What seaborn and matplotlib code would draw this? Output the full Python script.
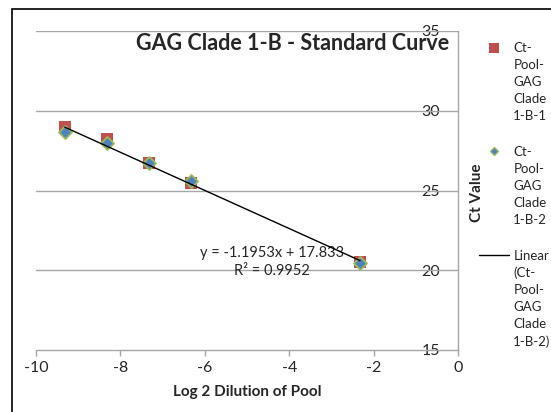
import numpy as np
import pandas as pd
import matplotlib
matplotlib.use("Agg")
import matplotlib.pyplot as plt
from matplotlib.lines import Line2D
from matplotlib.patches import Rectangle
import seaborn as sns

# ---- data ----
log2_dilution = [-9.32, -8.32, -7.32, -6.32, -2.32]
ct_series1 = [28.95, 28.22, 26.72, 25.50, 20.52]
ct_series2 = [28.65, 27.96, 26.70, 25.62, 20.48]
series1_name = "Ct-\nPool-\nGAG\nClade\n1-B-1"
series2_name = "Ct-\nPool-\nGAG\nClade\n1-B-2"
trend_name = "Linear\n(Ct-\nPool-\nGAG\nClade\n1-B-2)"
trend_slope = -1.1953
trend_intercept = 17.833
trend_r2 = 0.9952
x_ticks = [-10, -8, -6, -4, -2, 0]
y_ticks = [15, 20, 25, 30, 35]
title = "GAG Clade 1-B - Standard Curve"
x_label = "Log 2 Dilution of Pool"
y_label = "Ct Value"

sns.set_style("white")
plt.rcParams['font.family'] = ['Lato', 'DejaVu Sans']

RED = "#C0504D"
BLUE = "#4F81BD"
GREEN = "#9BBB59"
GRID = "#A6A6A6"

fig = plt.figure(figsize=(5.51, 4.12), dpi=100)
W, H = 551, 412
ax = fig.add_axes([36 / W, 1 - 350 / H, (458 - 36) / W, (350 - 31) / H])

df1 = pd.DataFrame({"x": log2_dilution, "y": ct_series1})
df2 = pd.DataFrame({"x": log2_dilution, "y": ct_series2})
sns.scatterplot(data=df1, x="x", y="y", marker="s", s=84, color=RED,
                edgecolor=RED, linewidth=0, ax=ax, zorder=3)
sns.scatterplot(data=df2, x="x", y="y", marker="D", s=44, color=BLUE,
                edgecolor=GREEN, linewidth=1.3, ax=ax, zorder=4)

xline = np.array([min(log2_dilution), max(log2_dilution)])
sns.lineplot(x=xline, y=trend_slope * xline + trend_intercept, color="black",
             linewidth=1.0, ax=ax, zorder=5)

ax.set_xlim(-10, 0)
ax.set_ylim(15, 35)
ax.set_xticks(x_ticks)
ax.set_yticks(y_ticks)
ax.set_xticklabels([str(t) for t in x_ticks])
ax.set_yticklabels([str(t) for t in y_ticks])

for yv in y_ticks[1:]:
    ax.axhline(yv, color=GRID, linewidth=1.0, zorder=1)

for s in ["top", "right"]:
    ax.spines[s].set_visible(False)
ax.spines["left"].set_position(("data", 0))
ax.spines["left"].set_color(GRID)
ax.spines["bottom"].set_color(GRID)
ax.spines["left"].set_linewidth(1.0)
ax.spines["bottom"].set_linewidth(1.0)
ax.tick_params(axis="x", direction="out", length=4, color=GRID, width=1,
               labelsize=11.5, pad=4, bottom=True)
ax.tick_params(axis="y", direction="in", length=0, labelsize=11.5, pad=13, left=True)

ax.set_xlabel(x_label, fontsize=11, fontweight="bold", labelpad=7)
ax.set_ylabel("")
fig.text(477 / W, 1 - 193 / H, y_label, rotation=90, fontsize=11,
         fontweight="bold", ha="center", va="center")

fig.text(293 / W, 1 - 43 / H, title, fontsize=15.5, fontweight="bold",
         ha="center", va="center")

ax.annotate(f"y = {trend_slope:.4f}x + {trend_intercept:.3f}\nR² = {trend_r2:.4f}",
            xy=(272 / W, 1 - 262 / H), xycoords="figure fraction",
            ha="center", va="center", fontsize=10.5, linespacing=1.4)

handles = [
    Line2D([], [], marker="s", linestyle="none", markersize=7.5,
           markerfacecolor=RED, markeredgecolor=RED, markeredgewidth=0),
    Line2D([], [], marker="D", linestyle="none", markersize=4,
           markerfacecolor=BLUE, markeredgecolor=GREEN, markeredgewidth=1),
    Line2D([], [], color="black", linewidth=1.0),
]
leg = fig.legend(handles, [series1_name, series2_name, trend_name],
                 loc="upper left", bbox_to_anchor=(479 / W, 1 - 42 / H),
                 frameon=False, borderpad=0, borderaxespad=0,
                 handlelength=2.3, handletextpad=0.3, handleheight=1.15,
                 labelspacing=1.8, fontsize=9.5)
for t in leg.get_texts():
    t.set_linespacing(1.5)
for col in leg._legend_handle_box.get_children():
    for item in col.get_children():
        item.align = "top"

fig.patches.append(Rectangle((12 / W, -0.1), 1.0, 1 - 9 / H + 0.1,
                             transform=fig.transFigure, fill=False,
                             edgecolor="black", linewidth=1.2))

fig.savefig("out.png", dpi=100)
